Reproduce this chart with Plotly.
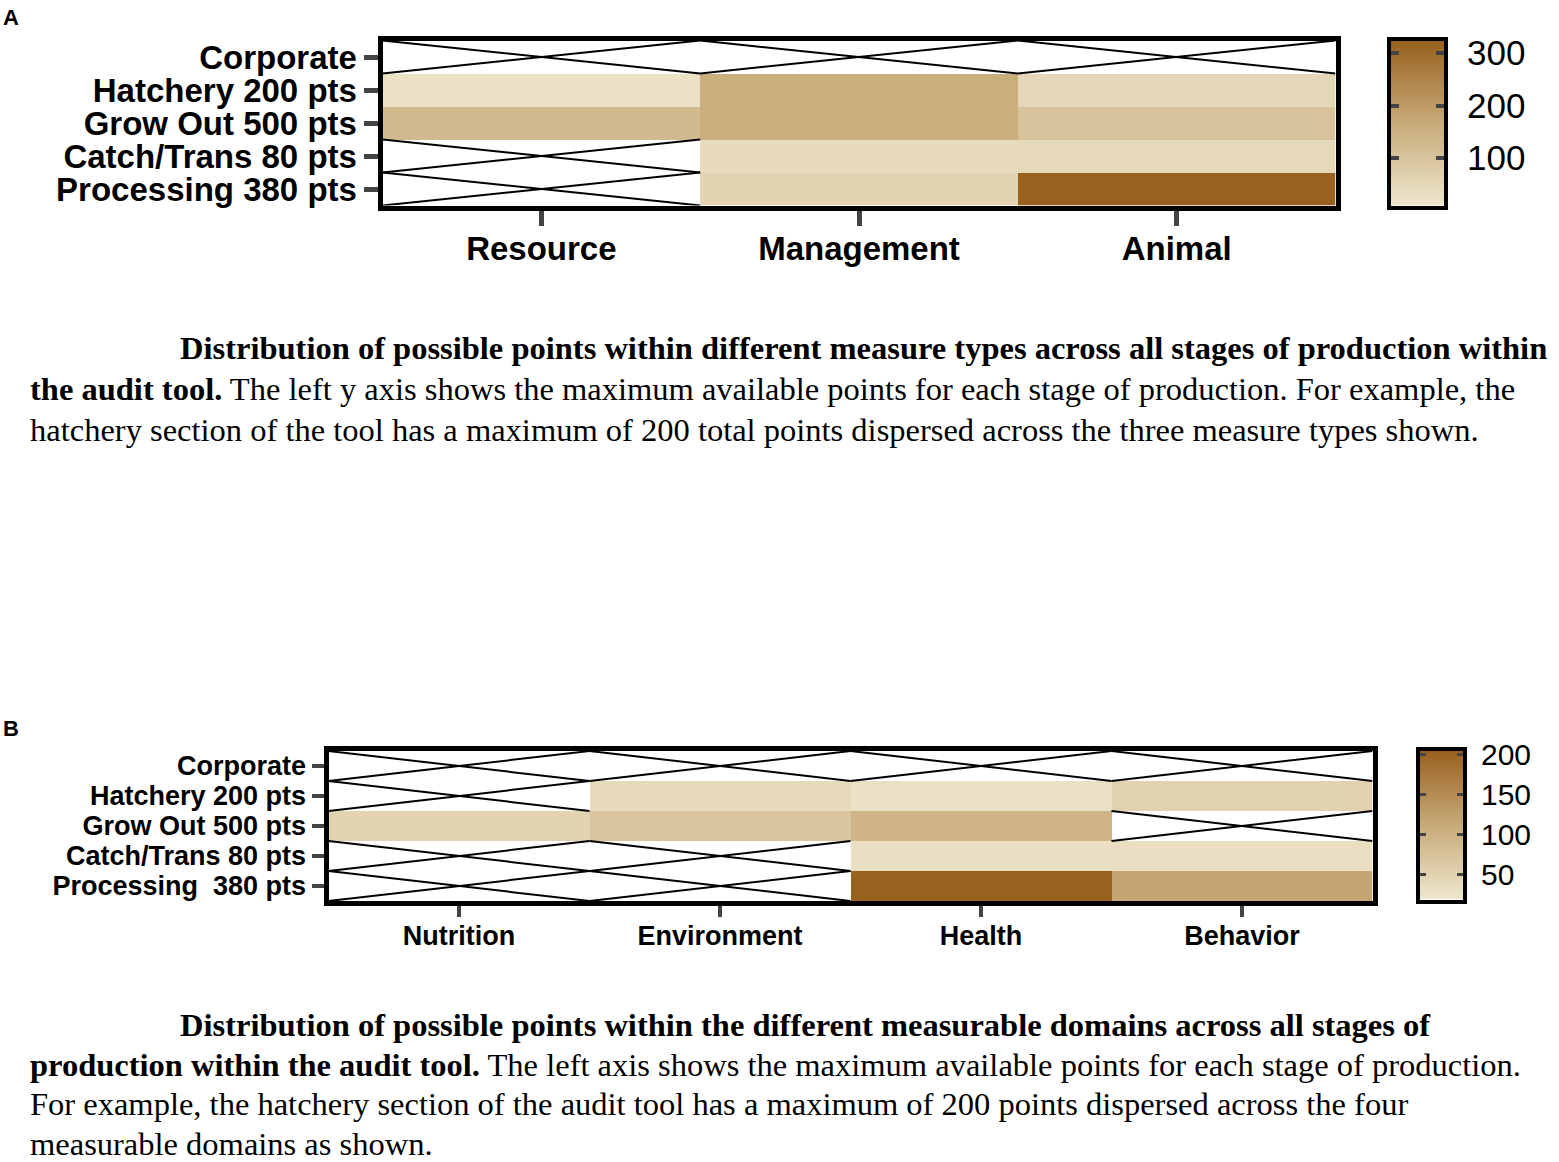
import plotly.graph_objects as go

# ---- data ----
stages_a = ["Corporate", "Hatchery 200 pts", "Grow Out 500 pts",
            "Catch/Trans 80 pts", "Processing 380 pts"]
measure_types = ["Resource", "Management", "Animal"]
resource_pts = [None, 25, 128, None, None]
management_pts = [None, 160, 160, 43, 62]
animal_pts = [None, 53, 105, 48, 324]

stages_b = ["Corporate", "Hatchery 200 pts", "Grow Out 500 pts",
            "Catch/Trans 80 pts", "Processing\u00a0 380 pts"]
domains = ["Nutrition", "Environment", "Health", "Behavior"]
nutrition_pts = [None, None, 49, None, None]
environment_pts = [None, 40, 71, None, None]
health_pts = [None, 30, 98, 32, 205]
behavior_pts = [None, 52, None, 32, 119]

cbar_ticks_a = [100, 200, 300]
cbar_ticks_b = [50, 100, 150, 200]

caption_a = [
    "<b>Distribution of possible points within different measure types across all stages of production within</b>",
    "<b>the audit tool.</b> The left y axis shows the maximum available points for each stage of production. For example, the",
    "hatchery section of the tool has a maximum of 200 total points dispersed across the three measure types shown.",
]
caption_b = [
    "<b>Distribution of possible points within the different measurable domains across all stages of</b>",
    "<b>production within the audit tool.</b> The left axis shows the maximum available points for each stage of production.",
    "For example, the hatchery section of the audit tool has a maximum of 200 points dispersed across the four",
    "measurable domains as shown.",
]

W, H = 1559, 1162
BROWN = [[0.0, "#EFE8CE"], [0.5, "#C8AB7A"], [1.0, "#98611F"]]
SANS = "Liberation Sans"
SERIF = "Liberation Serif"


def hx(a, b):
    return [a / W, b / W]


def vy(top, bottom):
    return [1 - bottom / H, 1 - top / H]


def crosses(columns):
    # an X over every cell that has no value
    xs, ys = [], []
    for i, col in enumerate(columns):
        for j, v in enumerate(col):
            if v is None:
                xs += [i - 0.5, i + 0.5, None, i - 0.5, i + 0.5, None]
                ys += [j - 0.5, j + 0.5, None, j + 0.5, j - 0.5, None]
    return xs, ys


def add_panel(fig, columns, n, xa, ya, zmin, zmax):
    z = [[col[j] for col in columns] for j in range(n)]
    fig.add_trace(go.Heatmap(z=z, x=list(range(len(columns))), y=list(range(n)),
                             colorscale=BROWN, zmin=zmin, zmax=zmax, showscale=False,
                             hoverongaps=False, xaxis=xa, yaxis=ya))
    xs, ys = crosses(columns)
    fig.add_trace(go.Scatter(x=xs, y=ys, mode="lines", line=dict(color="black", width=2),
                             hoverinfo="skip", showlegend=False, xaxis=xa, yaxis=ya))


def add_scale(fig, xa, ya, zmin, zmax):
    # colour bar drawn as a smooth two-stop heatmap on its own axis
    fig.add_trace(go.Heatmap(z=[[zmin, zmin], [zmax, zmax]], x=[0, 1], y=[zmin, zmax],
                             colorscale=BROWN, zmin=zmin, zmax=zmax, zsmooth="best",
                             showscale=False, hoverinfo="skip", xaxis=xa, yaxis=ya))


fig = go.Figure()

cols_a = [resource_pts, management_pts, animal_pts]
cols_b = [nutrition_pts, environment_pts, health_pts, behavior_pts]
za = (10, 324)
zb = (19, 205)

add_panel(fig, cols_a, len(stages_a), "x", "y", *za)
add_scale(fig, "x2", "y2", *za)
add_panel(fig, cols_b, len(stages_b), "x3", "y3", *zb)
add_scale(fig, "x4", "y4", *zb)

box = dict(showline=True, linecolor="black", mirror=True, showgrid=False, zeroline=False)

fig.update_layout(
    width=W, height=H,
    margin=dict(l=0, r=0, t=0, b=0),
    paper_bgcolor="white", plot_bgcolor="white",
    showlegend=False,
    # panel A heat map
    xaxis=dict(domain=hx(382.5, 1335.5), anchor="y", range=[-0.5, len(measure_types) - 0.5],
               tickvals=list(range(len(measure_types))), ticktext=measure_types,
               ticks="outside", ticklen=15, tickwidth=5, linewidth=5, ticklabelstandoff=-5,
               tickfont=dict(family=SANS, size=33, color="black", weight="bold"), **box),
    yaxis=dict(domain=vy(40.5, 205.5), anchor="x", range=[len(stages_a) - 0.5, -0.5],
               tickvals=list(range(len(stages_a))), ticktext=stages_a,
               ticks="outside", ticklen=14, tickwidth=5, linewidth=5,
               tickfont=dict(family=SANS, size=33, color="black", weight="bold"), **box),
    # panel A colour scale
    xaxis2=dict(domain=hx(1390.5, 1444), anchor="y2", range=[0, 1], linewidth=4,
                showticklabels=False, ticks="", **box),
    yaxis2=dict(domain=vy(40.5, 205.5), anchor="x2", range=list(za), side="right",
                tickvals=cbar_ticks_a, ticks="inside", ticklen=8, tickwidth=4,
                showline=True, linecolor="black", linewidth=4, mirror="ticks",
                showgrid=False, zeroline=False, ticklabelstandoff=12,
                tickfont=dict(family=SANS, size=35, color="black")),
    # panel B heat map
    xaxis3=dict(domain=hx(328.5, 1372.5), anchor="y3", range=[-0.5, len(domains) - 0.5],
                tickvals=list(range(len(domains))), ticktext=domains,
                ticks="outside", ticklen=11, tickwidth=4, linewidth=5, ticklabelstandoff=-4,
                tickfont=dict(family=SANS, size=27, color="black", weight="bold"), **box),
    yaxis3=dict(domain=vy(751, 901), anchor="x3", range=[len(stages_b) - 0.5, -0.5],
                tickvals=list(range(len(stages_b))), ticktext=stages_b,
                ticks="outside", ticklen=12, tickwidth=4, linewidth=5,
                tickfont=dict(family=SANS, size=27, color="black", weight="bold"), **box),
    # panel B colour scale
    xaxis4=dict(domain=hx(1419.5, 1463), anchor="y4", range=[0, 1], linewidth=4,
                showticklabels=False, ticks="", **box),
    yaxis4=dict(domain=vy(751, 899.5), anchor="x4", range=list(zb), side="right",
                tickvals=cbar_ticks_b, ticks="inside", ticklen=6, tickwidth=3,
                showline=True, linecolor="black", linewidth=4, mirror="ticks",
                showgrid=False, zeroline=False, ticklabelstandoff=8,
                tickfont=dict(family=SANS, size=30, color="black")),
)
# keep the layout fixed: no margin pushing by tick labels
fig.update_xaxes(automargin=False)
fig.update_yaxes(automargin=False)

# panel letters
for letter, ytop in [("A", 18), ("B", 728)]:
    fig.add_annotation(text="<b>%s</b>" % letter, xref="paper", yref="paper",
                       x=1 / W, y=1 - ytop / H, xanchor="left", yanchor="middle",
                       showarrow=False, font=dict(family=SANS, size=22, color="black"))

# figure legends
for lines, y0, step in [(caption_a, 348, 41), (caption_b, 1025, 39.5)]:
    for k, line in enumerate(lines):
        x0 = 178 if k == 0 else 28
        fig.add_annotation(text=line, xref="paper", yref="paper",
                           x=x0 / W, y=1 - (y0 + step * k) / H,
                           xanchor="left", yanchor="middle", showarrow=False,
                           font=dict(family=SERIF, size=32.5, color="black"))

# no page margin, so the 1559x1162 figure fills the window exactly
fig.write_html("out.html", config={"displayModeBar": False},
               post_script="document.body.style.margin='0';")
